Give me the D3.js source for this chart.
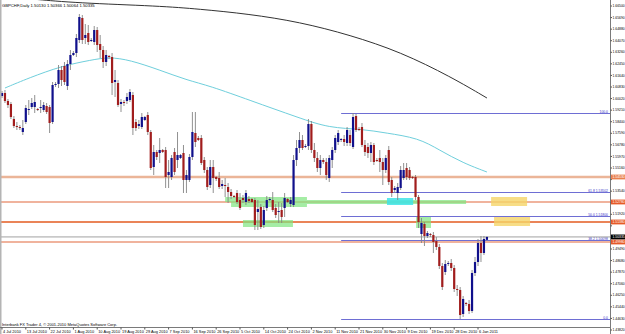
<!DOCTYPE html>
<html>
<head>
<meta charset="utf-8">
<script src="https://cdnjs.cloudflare.com/ajax/libs/d3/7.8.5/d3.min.js"></script>
<style>
    body { margin: 0; background: #fff; }
    svg { display: block; font-family: "Liberation Sans", Arial, sans-serif; }
</style>
</head>
<body>
<div id="chart"></div>
<script>
const symbolTitle = 'GBPCHF,Daily  1.50130 1.50366 1.50064 1.50335';
const footerText = 'Interbank FX Trader 4, \u00a9 2001-2010 MetaQuotes Software Corp.';

// date axis labels, one every 8 bars
const dateLabels = ['4 Jul 2010', '13 Jul 2010', '22 Jul 2010', '1 Aug 2010', '10 Aug 2010', '19 Aug 2010',
    '29 Aug 2010', '7 Sep 2010', '16 Sep 2010', '26 Sep 2010', '5 Oct 2010', '14 Oct 2010', '24 Oct 2010',
    '2 Nov 2010', '11 Nov 2010', '21 Nov 2010', '30 Nov 2010', '9 Dec 2010', '19 Dec 2010', '28 Dec 2010', '6 Jan 2011'];
const dateLabelBars = [0, 8, 16, 24, 32, 40, 48, 56, 64, 72, 80, 88, 96, 104, 112, 120, 128, 136, 144, 152, 160];

const priceTicks = [1.66500, 1.65690, 1.64880, 1.64070, 1.63260, 1.62450, 1.61640, 1.60830, 1.60020, 1.59210,
    1.58400, 1.57590, 1.56780, 1.55970, 1.55160, 1.54350, 1.53540, 1.52730, 1.51920, 1.51110, 1.50300,
    1.49490, 1.48680, 1.47870, 1.47060, 1.46250, 1.45440, 1.44630, 1.43820];

// daily candles [open, high, low, close]
const candles = [
    [1.6020, 1.6055, 1.6006, 1.6041], [1.6041, 1.6062, 1.5971, 1.5985], [1.5985, 1.5999, 1.5936, 1.5957],
    [1.5964, 1.5978, 1.5859, 1.5873], [1.5859, 1.5880, 1.5796, 1.5810], [1.5810, 1.5838, 1.5782, 1.5803],
    [1.5803, 1.5817, 1.5782, 1.5796], [1.5768, 1.5852, 1.5747, 1.5796], [1.5838, 1.5957, 1.5824, 1.5936],
    [1.5922, 1.5992, 1.5887, 1.5929], [1.5943, 1.6006, 1.5929, 1.5971], [1.5943, 1.6027, 1.5901, 1.5978],
    [1.5929, 1.5936, 1.5915, 1.5922], [1.5936, 1.5992, 1.5901, 1.5943], [1.5922, 1.5978, 1.5908, 1.5957],
    [1.5950, 1.5971, 1.5894, 1.5908], [1.5943, 1.5957, 1.5761, 1.5831], [1.5838, 1.6118, 1.5824, 1.6097],
    [1.6097, 1.6118, 1.6083, 1.6104], [1.6104, 1.6237, 1.6076, 1.6202], [1.6202, 1.6230, 1.6090, 1.6132],
    [1.6230, 1.6258, 1.6097, 1.6118], [1.6090, 1.6272, 1.6062, 1.6244], [1.6244, 1.6342, 1.6202, 1.6307],
    [1.6307, 1.6335, 1.6300, 1.6321], [1.6321, 1.6454, 1.6293, 1.6426], [1.6412, 1.6594, 1.6391, 1.6573],
    [1.6566, 1.6587, 1.6384, 1.6412], [1.6426, 1.6524, 1.6384, 1.6447], [1.6461, 1.6517, 1.6377, 1.6398],
    [1.6405, 1.6426, 1.6398, 1.6412], [1.6398, 1.6510, 1.6377, 1.6482], [1.6482, 1.6503, 1.6328, 1.6377],
    [1.6384, 1.6447, 1.6286, 1.6342], [1.6342, 1.6370, 1.6216, 1.6258], [1.6258, 1.6342, 1.6230, 1.6307],
    [1.6300, 1.6307, 1.6279, 1.6293], [1.6293, 1.6321, 1.6027, 1.6111], [1.6118, 1.6202, 1.6013, 1.6132],
    [1.6111, 1.6132, 1.5943, 1.5957], [1.5964, 1.5999, 1.5908, 1.5978], [1.5978, 1.5992, 1.5950, 1.5971],
    [1.5985, 1.6041, 1.5964, 1.6013], [1.5992, 1.6069, 1.5978, 1.6048], [1.6027, 1.6048, 1.5747, 1.5796],
    [1.5838, 1.5859, 1.5775, 1.5796], [1.5810, 1.5852, 1.5789, 1.5824], [1.5803, 1.5901, 1.5789, 1.5873],
    [1.5852, 1.5880, 1.5845, 1.5873], [1.5887, 1.5908, 1.5747, 1.5768], [1.5768, 1.5782, 1.5502, 1.5516],
    [1.5523, 1.5677, 1.5467, 1.5628], [1.5628, 1.5642, 1.5572, 1.5593], [1.5621, 1.5726, 1.5551, 1.5642],
    [1.5642, 1.5649, 1.5621, 1.5628], [1.5642, 1.5663, 1.5376, 1.5453], [1.5467, 1.5572, 1.5376, 1.5488],
    [1.5453, 1.5607, 1.5432, 1.5586], [1.5628, 1.5656, 1.5467, 1.5488], [1.5572, 1.5768, 1.5516, 1.5607],
    [1.5586, 1.5614, 1.5579, 1.5607], [1.5621, 1.5677, 1.5341, 1.5432], [1.5432, 1.5502, 1.5341, 1.5467],
    [1.5432, 1.5614, 1.5418, 1.5593], [1.5593, 1.5908, 1.5572, 1.5768], [1.5761, 1.5908, 1.5663, 1.5698],
    [1.5726, 1.5740, 1.5705, 1.5712], [1.5726, 1.5747, 1.5537, 1.5551], [1.5572, 1.5593, 1.5481, 1.5502],
    [1.5502, 1.5523, 1.5362, 1.5383], [1.5397, 1.5572, 1.5376, 1.5523], [1.5523, 1.5572, 1.5341, 1.5446],
    [1.5453, 1.5460, 1.5425, 1.5439], [1.5446, 1.5488, 1.5369, 1.5383], [1.5390, 1.5432, 1.5369, 1.5404],
    [1.5397, 1.5446, 1.5313, 1.5390], [1.5383, 1.5411, 1.5271, 1.5348], [1.5348, 1.5369, 1.5299, 1.5320],
    [1.5320, 1.5327, 1.5306, 1.5313], [1.5341, 1.5362, 1.5264, 1.5278], [1.5292, 1.5341, 1.5222, 1.5236],
    [1.5306, 1.5327, 1.5271, 1.5292], [1.5278, 1.5362, 1.5257, 1.5341], [1.5299, 1.5320, 1.5271, 1.5285],
    [1.5299, 1.5306, 1.5271, 1.5278], [1.5292, 1.5306, 1.5082, 1.5117], [1.5208, 1.5292, 1.5082, 1.5229],
    [1.5243, 1.5264, 1.5089, 1.5103], [1.5117, 1.5250, 1.5096, 1.5222], [1.5236, 1.5320, 1.5215, 1.5292],
    [1.5292, 1.5313, 1.5285, 1.5299], [1.5292, 1.5348, 1.5208, 1.5222], [1.5236, 1.5264, 1.5166, 1.5187],
    [1.5208, 1.5278, 1.5131, 1.5215], [1.5222, 1.5271, 1.5131, 1.5173], [1.5236, 1.5341, 1.5173, 1.5306],
    [1.5299, 1.5306, 1.5271, 1.5278], [1.5264, 1.5313, 1.5243, 1.5292], [1.5257, 1.5607, 1.5243, 1.5572],
    [1.5572, 1.5712, 1.5530, 1.5656], [1.5656, 1.5768, 1.5621, 1.5712], [1.5712, 1.5747, 1.5642, 1.5656],
    [1.5663, 1.5684, 1.5656, 1.5670], [1.5670, 1.5859, 1.5642, 1.5824], [1.5824, 1.5845, 1.5621, 1.5642],
    [1.5642, 1.5691, 1.5558, 1.5586], [1.5586, 1.5628, 1.5488, 1.5516], [1.5516, 1.5607, 1.5467, 1.5572],
    [1.5572, 1.5586, 1.5544, 1.5558], [1.5558, 1.5586, 1.5432, 1.5467], [1.5446, 1.5607, 1.5418, 1.5586],
    [1.5572, 1.5663, 1.5516, 1.5642], [1.5642, 1.5747, 1.5621, 1.5726], [1.5698, 1.5782, 1.5677, 1.5761],
    [1.5712, 1.5726, 1.5698, 1.5719], [1.5719, 1.5747, 1.5670, 1.5698], [1.5691, 1.5803, 1.5670, 1.5782],
    [1.5747, 1.5782, 1.5670, 1.5691], [1.5663, 1.5901, 1.5649, 1.5873], [1.5880, 1.5894, 1.5768, 1.5782],
    [1.5789, 1.5803, 1.5775, 1.5782], [1.5803, 1.5831, 1.5663, 1.5677], [1.5677, 1.5712, 1.5600, 1.5628],
    [1.5663, 1.5691, 1.5586, 1.5621], [1.5621, 1.5698, 1.5558, 1.5677], [1.5677, 1.5691, 1.5537, 1.5558],
    [1.5572, 1.5586, 1.5558, 1.5565], [1.5586, 1.5642, 1.5488, 1.5558], [1.5558, 1.5586, 1.5397, 1.5502],
    [1.5502, 1.5607, 1.5481, 1.5586], [1.5642, 1.5670, 1.5397, 1.5418], [1.5432, 1.5453, 1.5313, 1.5341],
    [1.5362, 1.5390, 1.5341, 1.5376], [1.5341, 1.5411, 1.5292, 1.5383], [1.5376, 1.5530, 1.5362, 1.5502],
    [1.5446, 1.5551, 1.5432, 1.5502], [1.5516, 1.5551, 1.5432, 1.5453], [1.5502, 1.5523, 1.5432, 1.5446],
    [1.5453, 1.5460, 1.5439, 1.5446], [1.5453, 1.5467, 1.5292, 1.5313], [1.5313, 1.5327, 1.5096, 1.5138],
    [1.5054, 1.5166, 1.4991, 1.5131], [1.5124, 1.5138, 1.4970, 1.5040], [1.5040, 1.5075, 1.5026, 1.5061],
    [1.5054, 1.5061, 1.5033, 1.5047], [1.5047, 1.5068, 1.4921, 1.4998], [1.5005, 1.5033, 1.4942, 1.4963],
    [1.4963, 1.4984, 1.4809, 1.4830], [1.4830, 1.4851, 1.4662, 1.4683], [1.4788, 1.4872, 1.4767, 1.4844],
    [1.4844, 1.4865, 1.4830, 1.4851], [1.4851, 1.4879, 1.4795, 1.4816], [1.4816, 1.4837, 1.4648, 1.4669],
    [1.4669, 1.4697, 1.4620, 1.4662], [1.4662, 1.4683, 1.4459, 1.4487], [1.4494, 1.4620, 1.4473, 1.4599],
    [1.4571, 1.4578, 1.4550, 1.4564], [1.4564, 1.4592, 1.4494, 1.4515], [1.4515, 1.4802, 1.4501, 1.4781],
    [1.4781, 1.4893, 1.4760, 1.4858], [1.4858, 1.5019, 1.4830, 1.4991], [1.4991, 1.5040, 1.4858, 1.4921],
    [1.4921, 1.5040, 1.4907, 1.5019], [1.50130, 1.50366, 1.50064, 1.50335]
];

// moving averages, read at a few bars
const maSlowBars = [10, 25, 53, 66, 83, 100, 117, 134, 151, 163];
const maSlowValues = [1.6699, 1.6671, 1.6650, 1.6629, 1.6594, 1.6538, 1.6447, 1.6328, 1.6153, 1.6006];
const maFastBars = [1, 9, 20, 30, 36, 43, 53, 62, 70, 83, 100, 110, 121, 129, 140, 147, 155, 163];
const maFastValues = [1.6076, 1.6146, 1.6230, 1.6272, 1.6293, 1.6272, 1.6202, 1.6132, 1.6090, 1.5992,
    1.5866, 1.5796, 1.5789, 1.5761, 1.5726, 1.5642, 1.5551, 1.5488];

// fibonacci retracement
const fibStartBar = 114;
const fibHigh = 1.5901;
const fibLow = 1.4459;
const fibLevels = [0, 38.2, 50, 61.8, 100];

// horizontal levels and current bid
const hLevels = [1.5453, 1.5278, 1.5138, 1.4998];
const bidPrice = 1.50335;

// rectangles [fromBar, toBar, priceTop, priceBottom]
const greenZones = [[75, 102.5, 1.5313, 1.5278], [77, 102.5, 1.5278, 1.5243], [81, 97.8, 1.5152, 1.5103],
    [102.5, 156, 1.5292, 1.5264], [139.2, 144.2, 1.5173, 1.5096]];
const cyanZones = [[129.4, 138.2, 1.5306, 1.5257]];
const yellowZones = [[164.4, 176.5, 1.5313, 1.5250], [165.4, 177.5, 1.5180, 1.5110]];

const W = 625, H = 334;
const axisX = 610.5, axisY = 327.5;
const labelFont = 3.4;

const svg = d3.select('#chart').append('svg')
    .attr('width', W)
    .attr('height', H);

svg.append('rect').attr('width', W).attr('height', H).attr('fill', '#fff');

const xScale = d3.scaleLinear().domain([0, 160]).range([2, 478]);
const yScale = d3.scaleLinear().domain([1.6692, 1.4459]).range([0, 319]);

svg.append('clipPath').attr('id', 'plot-clip')
    .append('rect').attr('x', 0).attr('y', 0).attr('width', axisX).attr('height', axisY);

const plot = svg.append('g').attr('clip-path', 'url(#plot-clip)');

// horizontal levels
const levelStyle = [
    { color: '#ebb598', width: 2.6 },
    { color: '#e2693d', width: 1.2 },
    { color: '#ea8458', width: 1.8 },
    { color: '#e2693d', width: 1.2 }
];
plot.selectAll('.hlevel')
    .data(hLevels)
    .join('line')
    .attr('class', 'hlevel')
    .attr('x1', 0).attr('x2', axisX)
    .attr('y1', d => yScale(d)).attr('y2', d => yScale(d))
    .attr('stroke', (d, i) => levelStyle[i].color)
    .attr('stroke-width', (d, i) => levelStyle[i].width);

// zones
function drawZones(list, color, opacity) {
    plot.append('g').selectAll('rect')
        .data(list)
        .join('rect')
        .attr('x', d => xScale(d[0]))
        .attr('width', d => xScale(d[1]) - xScale(d[0]))
        .attr('y', d => yScale(d[2]))
        .attr('height', d => yScale(d[3]) - yScale(d[2]))
        .attr('fill', color)
        .attr('fill-opacity', opacity);
}
drawZones(greenZones, '#7fe57f', 0.7);
drawZones(cyanZones, '#3fe3e8', 0.85);
drawZones(yellowZones, '#f5d468', 0.8);

// fibonacci
const fibColor = '#6e6ed4';
const fibG = plot.append('g');
fibLevels.forEach(lv => {
    const p = fibLow + (fibHigh - fibLow) * lv / 100;
    const y = Math.round(yScale(p)) + 0.5;
    fibG.append('line')
        .attr('x1', xScale(fibStartBar)).attr('x2', axisX)
        .attr('y1', y).attr('y2', y)
        .attr('stroke', fibColor)
        .attr('stroke-width', 1);
    fibG.append('text')
        .attr('x', 608)
        .attr('y', y - 1)
        .attr('text-anchor', 'end')
        .attr('font-size', labelFont)
        .attr('fill', '#3434c8')
        .text(lv === 0 || lv === 100 ? lv.toFixed(1) : `${lv.toFixed(1)} ${p.toFixed(5)}`);
});

// bid line
plot.append('line')
    .attr('x1', 0).attr('x2', axisX)
    .attr('y1', yScale(bidPrice)).attr('y2', yScale(bidPrice))
    .attr('stroke', '#8a8a8a')
    .attr('stroke-width', 0.8);

// moving averages
const maLine = d3.line()
    .x(d => xScale(d[0]))
    .y(d => yScale(d[1]))
    .curve(d3.curveBasis);
plot.append('path')
    .attr('d', maLine(maSlowBars.map((b, i) => [b, maSlowValues[i]])))
    .attr('fill', 'none')
    .attr('stroke', '#333')
    .attr('stroke-width', 1);
plot.append('path')
    .attr('d', maLine(maFastBars.map((b, i) => [b, maFastValues[i]])))
    .attr('fill', 'none')
    .attr('stroke', '#6fcfdc')
    .attr('stroke-width', 1);

// candles
const bodyW = 2.2;
const candleG = plot.append('g');
candleG.selectAll('.wick')
    .data(candles)
    .join('line')
    .attr('class', 'wick')
    .attr('x1', (d, i) => xScale(i)).attr('x2', (d, i) => xScale(i))
    .attr('y1', d => yScale(d[1])).attr('y2', d => yScale(d[2]))
    .attr('stroke', '#858585')
    .attr('stroke-width', 0.9);
candleG.selectAll('.body')
    .data(candles)
    .join('rect')
    .attr('class', 'body')
    .attr('x', (d, i) => xScale(i) - bodyW / 2)
    .attr('width', bodyW)
    .attr('y', d => yScale(Math.max(d[0], d[3])))
    .attr('height', d => Math.max(0.8, Math.abs(yScale(d[0]) - yScale(d[3]))))
    .attr('fill', d => d[3] >= d[0] ? '#10108c' : '#a11d1d');

// title and footer
svg.append('text')
    .attr('x', 2).attr('y', 6.5)
    .attr('font-size', 4.2)
    .attr('fill', '#000')
    .text(symbolTitle);
svg.append('text')
    .attr('x', 2).attr('y', 325.5)
    .attr('font-size', 4)
    .attr('fill', '#000')
    .text(footerText);

// frame
svg.append('rect').attr('x', 0).attr('y', 0).attr('width', 1.5).attr('height', H).attr('fill', '#b4b4b4');
svg.append('line').attr('x1', axisX).attr('x2', axisX).attr('y1', 0).attr('y2', H)
    .attr('stroke', '#7a7a7a').attr('stroke-width', 1);
svg.append('line').attr('x1', 0).attr('x2', axisX).attr('y1', axisY).attr('y2', axisY)
    .attr('stroke', '#7a7a7a').attr('stroke-width', 1);

// price axis, skipping labels hidden under a price tag
const tagPrices = hLevels.concat([bidPrice]);
const freeTicks = priceTicks.filter(t => tagPrices.every(p => Math.abs(yScale(t) - yScale(p)) > 5));
const priceAxis = svg.append('g');
priceAxis.selectAll('line')
    .data(priceTicks)
    .join('line')
    .attr('x1', axisX).attr('x2', axisX + 1.5)
    .attr('y1', d => yScale(d)).attr('y2', d => yScale(d))
    .attr('stroke', '#555');
priceAxis.selectAll('text')
    .data(freeTicks)
    .join('text')
    .attr('x', axisX + 2)
    .attr('y', d => yScale(d) + 1.2)
    .attr('font-size', labelFont)
    .attr('fill', '#000')
    .text(d => d.toFixed(5));

// highlighted price labels
function priceTag(p, bg) {
    const y = yScale(p);
    svg.append('rect')
        .attr('x', axisX + 0.5).attr('y', y - 2.4)
        .attr('width', W - axisX).attr('height', 4.8)
        .attr('fill', bg);
    svg.append('text')
        .attr('x', axisX + 2).attr('y', y + 1.2)
        .attr('font-size', labelFont)
        .attr('fill', '#fff')
        .text(p.toFixed(5));
}
hLevels.forEach((p, i) => priceTag(p, i === 0 ? '#e9804f' : '#e65a28'));
priceTag(bidPrice, '#000');

// date axis
const dateAxis = svg.append('g');
dateAxis.selectAll('line')
    .data(dateLabelBars)
    .join('line')
    .attr('x1', d => xScale(d)).attr('x2', d => xScale(d))
    .attr('y1', axisY).attr('y2', axisY + 2)
    .attr('stroke', '#555');
dateAxis.selectAll('text')
    .data(dateLabels)
    .join('text')
    .attr('x', (d, i) => xScale(dateLabelBars[i]) + 1)
    .attr('y', 333)
    .attr('font-size', 3.9)
    .attr('fill', '#000')
    .text(d => d);
</script>
</body>
</html>
